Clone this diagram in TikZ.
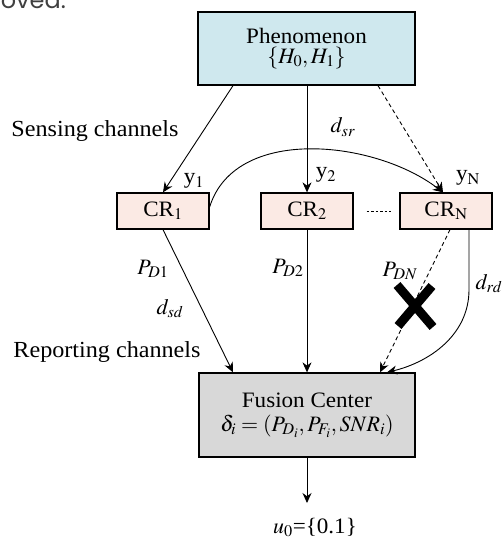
\documentclass[tikz,border=0pt]{standalone}
\usepackage{mathptmx}
\usepackage{fontspec}
\setmainfont{Liberation Serif}[FakeStretch=1.05]
\newfontfamily\topfont{Poppins}
\usetikzlibrary{arrows.meta,calc}
\definecolor{phenfill}{HTML}{CFE8EE}
\definecolor{crfill}{HTML}{FBEAE4}
\definecolor{fcfill}{HTML}{D8D8D8}
\tikzset{
  box/.style={draw=black, line width=1.3pt, inner sep=0pt, align=center},
  crbox/.style={box, fill=crfill, minimum width=92pt, minimum height=36pt, font=\fontsize{22}{22}\selectfont},
  conn/.style={line width=0.9pt, -{Stealth[length=10pt,width=9pt]}},
  dashconn/.style={conn, dash pattern=on 4pt off 3pt},
  lbl/.style={inner sep=0pt, anchor=base, font=\fontsize{22}{22}\selectfont},
  sidelbl/.style={inner sep=0pt, anchor=base, font=\fontsize{23}{23}\selectfont},
}
\begin{document}
\begin{tikzpicture}[x=1pt,y=-1pt]
\useasboundingbox (0,0) rectangle (501,537);
\node[anchor=base east, inner sep=0pt, text=black!75, font=\topfont\fontsize{24}{24}\selectfont] (cut) at (66,9) {proved.};
\node[box, fill=phenfill, minimum width=217pt, minimum height=73pt, font=\fontsize{22}{20}\selectfont] (phen) at (306.5,48.5) {Phenomenon\\$\{H_0, H_1\}$};
\node[crbox] (cr1) at (163,211) {CR$_1$};
\node[crbox] (cr2) at (307,211) {CR$_2$};
\node[crbox] (crn) at (446,211) {CR$_{\mathrm{N}}$};
\node[box, fill=fcfill, minimum width=216pt, minimum height=84pt, font=\fontsize{22}{24}\selectfont] (fc) at (307,415) {Fusion Center\\$\delta_i=(P_{D_i},P_{F_i},SNR_i)$};
\node[lbl] (out) at (315,533) {$u_0$=\{0.1\}};
\coordinate (outtip) at (306,503);

\node[sidelbl] (sens) at (95,137) {Sensing channels};
\node[sidelbl] (report) at (107,357) {Reporting channels};
\node[lbl] (y1) at (194,184) {y$_1$};
\node[lbl] (y2) at (326,178) {y$_2$};
\node[lbl] (yn) at (468,181) {y$_{\mathrm{N}}$};
\node[lbl] (dsr) at (343,133) {$d_{sr}$};
\node[lbl] (pd1) at (153,274) {$P_{D1}$};
\node[lbl] (dsd) at (170,314) {$d_{sd}$};
\node[lbl] (pd2) at (288,273) {$P_{D2}$};
\node[lbl] (pdn) at (400,276) {$P_{DN}$};
\node[lbl] (drd) at (489,289) {$d_{rd}$};

% sensing channels
\draw[conn] ([xshift=-73.5pt]phen.south) -- (cr1.north);
\draw[conn] (phen.south -| cr2.north) -- (cr2.north);
\draw[dashconn] ([xshift=71.5pt]phen.south) -- ([xshift=-3pt]crn.north);
\draw[conn] ([yshift=4pt]cr1.east) .. controls (235,125) and (375,140) .. ([xshift=-3pt]crn.north);
\draw[line width=0.9pt, dash pattern=on 2.5pt off 2pt] ([xshift=13pt]cr2.east) -- ([xshift=-8pt]crn.west);

% reporting channels
\draw[conn] (cr1.south) -- ([xshift=-74pt]fc.north);
\draw[conn] (cr2.south) -- (cr2.south |- fc.north);
\draw[dashconn] ([xshift=4pt]crn.south) -- ([xshift=73pt]fc.north);
\draw[conn] ([xshift=23pt]crn.south) -- ++(0,60) .. controls +(0,45) and (430,362) .. ([xshift=80pt]fc.north);

% blocked link mark
\draw[line width=9pt] (397,285) -- (433,327) (432,286) -- (398,326);

% output
\draw[conn] (fc.south) -- (fc.south |- outtip);
\end{tikzpicture}
\end{document}
